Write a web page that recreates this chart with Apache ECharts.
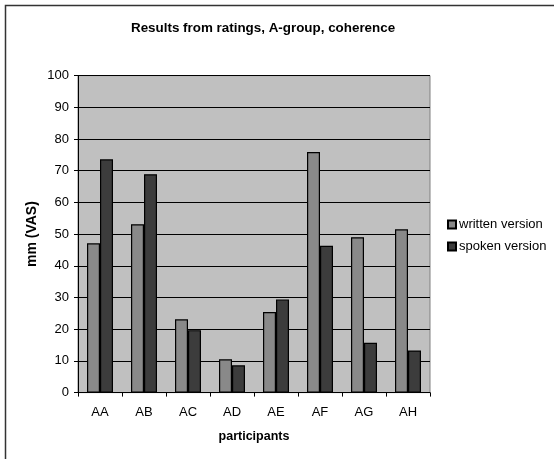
<!DOCTYPE html>
<html>
<head>
<meta charset="utf-8">
<script src="https://cdn.jsdelivr.net/npm/echarts@6/dist/echarts.min.js"></script>
<style>
  html, body { margin: 0; padding: 0; background: #fff; }
  #chart { width: 554px; height: 459px; }
</style>
</head>
<body>
<div id="chart"></div>
<script>
// ratings per participant
const participants = ['AA', 'AB', 'AC', 'AD', 'AE', 'AF', 'AG', 'AH']
const written = [47.1, 53.1, 23.1, 10.5, 25.4, 75.9, 49.0, 51.5]
const spoken = [73.6, 68.9, 19.7, 8.6, 29.4, 46.3, 15.7, 13.3]
const yTicks = [0, 100, 10]

const font = 'Liberation Sans, Arial, sans-serif'
const chart = echarts.init(document.getElementById('chart'))

chart.setOption({
  backgroundColor: '#fff',
  animation: false,
  title: {
    text: 'Results from ratings, A-group, coherence',
    left: 131,
    top: 22,
    padding: 0,
    textStyle: { fontFamily: font, fontSize: 13.4, fontWeight: 'bold', color: '#000' }
  },
  // outer chart frame, only top and left edge fall inside the picture
  graphic: [{
    type: 'rect',
    shape: { x: 5.5, y: 5.5, width: 600, height: 500 },
    style: { fill: 'none', stroke: '#333', lineWidth: 1.5 },
    silent: true
  }],
  legend: {
    orient: 'vertical',
    left: 447,
    top: 218,
    padding: 0,
    itemWidth: 8,
    itemHeight: 8,
    itemGap: 9,
    icon: 'rect',
    textStyle: { fontFamily: font, fontSize: 13, color: '#000', padding: [0, 0, 0, -2] },
    data: ['written version', 'spoken version']
  },
  grid: {
    left: 78, right: 124, top: 75.6, bottom: 66.4,
    show: true,
    backgroundColor: '#c0c0c0',
    borderColor: '#808080',
    borderWidth: 1
  },
  xAxis: {
    type: 'category',
    data: participants,
    name: 'participants',
    nameLocation: 'middle',
    nameGap: 37,
    nameTextStyle: { fontFamily: font, fontSize: 12.5, fontWeight: 'bold', color: '#000' },
    axisLine: { lineStyle: { color: '#000', width: 1 } },
    axisTick: { show: true, length: 4, lineStyle: { color: '#000' } },
    axisLabel: { fontFamily: font, fontSize: 13, color: '#000', margin: 13 }
  },
  yAxis: {
    type: 'value',
    min: yTicks[0],
    max: yTicks[1],
    interval: yTicks[2],
    name: 'mm (VAS)',
    nameLocation: 'middle',
    nameGap: 39,
    nameMoveOverlap: false,
    nameRotate: 90,
    nameTextStyle: { fontFamily: font, fontSize: 14, fontWeight: 'bold', color: '#000' },
    axisLine: { show: true, lineStyle: { color: '#000', width: 1 } },
    axisTick: { show: true, length: 4, lineStyle: { color: '#000' } },
    axisLabel: { fontFamily: font, fontSize: 13, color: '#000', margin: 9 },
    splitLine: { lineStyle: { color: '#000', width: 1 } }
  },
  series: [
    {
      name: 'written version',
      type: 'bar',
      data: written,
      barWidth: 13,
      barGap: '0%',
      itemStyle: { color: '#898989', borderColor: '#000', borderWidth: 1.2 }
    },
    {
      name: 'spoken version',
      type: 'bar',
      data: spoken,
      barWidth: 13,
      barGap: '0%',
      itemStyle: { color: '#3c3c3c', borderColor: '#000', borderWidth: 1.2 }
    }
  ]
})
</script>
</body>
</html>
